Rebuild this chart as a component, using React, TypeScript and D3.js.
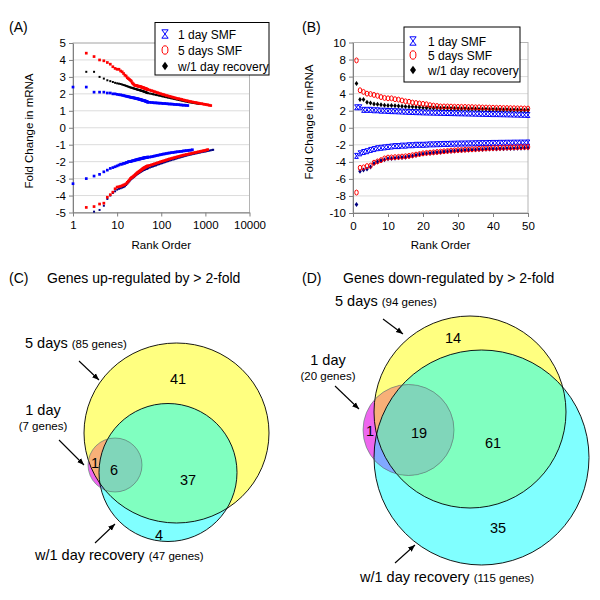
import React, { useEffect, useRef } from "react"
import * as d3 from "d3"

// rank order 1..50 (panel B, also the start of panel A)
const ranksB = d3.range(1, 51)
// ranks of the long tail shown in panel A
const tailRanks = [55, 60, 65, 70, 76, 82, 89, 96, 104, 112, 121, 131, 142, 154, 167, 181, 196, 212, 230, 249, 270, 292,
  316, 342, 370, 400, 433, 469, 508, 550, 596, 645, 699, 757, 820, 888, 962, 1042, 1128, 1222, 1323, 1433, 1500]

const blueUp = [2.4, 2.4, 2.1, 2.1, 2.1, 2.05, 2.05, 2.0, 2.0, 1.97, 1.95, 1.94, 1.92, 1.9, 1.88, 1.86, 1.85, 1.83, 1.82, 1.8,
  1.79, 1.78, 1.77, 1.76, 1.75, 1.74, 1.73, 1.72, 1.71, 1.7, 1.69, 1.68, 1.67, 1.66, 1.65, 1.64, 1.63, 1.62, 1.61, 1.6,
  1.6, 1.59, 1.58, 1.57, 1.56, 1.55, 1.54, 1.53, 1.52, 1.5]
const redUp = [7.9, 4.4, 4.2, 4.0, 3.95, 3.85, 3.75, 3.6, 3.5, 3.45, 3.45, 3.35, 3.3, 3.2, 3.1, 3.05, 2.95, 2.9, 2.85, 2.8,
  2.75, 2.65, 2.6, 2.55, 2.5, 2.5, 2.5, 2.48, 2.46, 2.45, 2.45, 2.44, 2.43, 2.42, 2.4, 2.4, 2.38, 2.37, 2.36, 2.35,
  2.34, 2.33, 2.32, 2.31, 2.3, 2.29, 2.28, 2.27, 2.26, 2.25]
const blackUp = [5.2, 3.3, 3.3, 3.0, 2.9, 2.8, 2.75, 2.7, 2.65, 2.62, 2.6, 2.58, 2.55, 2.52, 2.5, 2.47, 2.45, 2.42, 2.4, 2.38,
  2.36, 2.35, 2.33, 2.32, 2.3, 2.29, 2.28, 2.26, 2.25, 2.24, 2.23, 2.22, 2.21, 2.2, 2.19, 2.18, 2.17, 2.16, 2.15, 2.14,
  2.13, 2.12, 2.11, 2.1, 2.09, 2.08, 2.07, 2.06, 2.05, 2.04]
const blueDown = [-3.3, -3.0, -2.85, -2.75, -2.6, -2.5, -2.4, -2.35, -2.3, -2.25, -2.2, -2.15, -2.15, -2.1, -2.1, -2.05, -2.05, -2.0, -2.0, -2.0,
  -1.98, -1.95, -1.95, -1.93, -1.92, -1.9, -1.9, -1.88, -1.87, -1.86, -1.85, -1.85, -1.84, -1.83, -1.82, -1.81, -1.8, -1.8, -1.79, -1.78,
  -1.78, -1.77, -1.77, -1.76, -1.76, -1.75, -1.75, -1.74, -1.74, -1.73]
const redDown = [-7.6, -4.7, -4.65, -4.5, -4.45, -4.1, -3.95, -3.8, -3.6, -3.5, -3.48, -3.45, -3.42, -3.38, -3.35, -3.3, -3.22, -3.15, -3.08, -3.0,
  -2.95, -2.92, -2.88, -2.84, -2.8, -2.76, -2.72, -2.68, -2.65, -2.62, -2.6, -2.57, -2.55, -2.52, -2.5, -2.47, -2.45, -2.42, -2.4, -2.38,
  -2.37, -2.35, -2.34, -2.32, -2.31, -2.3, -2.28, -2.27, -2.26, -2.25]
const navyDown = [-9.0, -5.1, -4.95, -4.85, -4.6, -4.2, -4.0, -3.85, -3.75, -3.65, -3.6, -3.57, -3.53, -3.5, -3.45, -3.38, -3.3, -3.22, -3.15, -3.08,
  -3.02, -2.98, -2.94, -2.9, -2.86, -2.82, -2.78, -2.75, -2.72, -2.7, -2.67, -2.65, -2.62, -2.6, -2.58, -2.56, -2.54, -2.52, -2.5, -2.49,
  -2.48, -2.46, -2.45, -2.44, -2.43, -2.42, -2.41, -2.4, -2.39, -2.38]

const blueUpTail = [1.5, 1.49, 1.48, 1.47, 1.47, 1.46, 1.45, 1.45, 1.44, 1.43, 1.43, 1.42, 1.41, 1.4, 1.4, 1.39, 1.38, 1.37, 1.37, 1.36,
  1.35, 1.34, 1.33, 1.33, 1.32, 1.31]
const redUpTail = [2.22, 2.19, 2.16, 2.13, 2.1, 2.07, 2.04, 2.01, 1.98, 1.96, 1.93, 1.9, 1.88, 1.85, 1.83, 1.8, 1.78, 1.75, 1.73, 1.71,
  1.69, 1.67, 1.64, 1.62, 1.6, 1.58, 1.56, 1.54, 1.52, 1.5, 1.49, 1.47, 1.45, 1.43, 1.42, 1.4, 1.38, 1.37, 1.35, 1.33, 1.31]
const blackUpTail = [2.02, 2.0, 1.98, 1.96, 1.94, 1.92, 1.9, 1.88, 1.86, 1.84, 1.82, 1.8, 1.78, 1.76, 1.74, 1.72, 1.7, 1.68, 1.66, 1.64,
  1.62, 1.6, 1.58, 1.56, 1.54, 1.52, 1.5, 1.49, 1.47, 1.46, 1.44, 1.43, 1.41, 1.4]
const blueDownTail = [-1.73, -1.71, -1.69, -1.67, -1.65, -1.63, -1.61, -1.59, -1.57, -1.55, -1.54, -1.52, -1.5, -1.49, -1.47, -1.46, -1.45,
  -1.43, -1.42, -1.41, -1.4, -1.39, -1.37, -1.36, -1.35, -1.34, -1.33, -1.32, -1.3]
const redDownTail = [-2.22, -2.19, -2.16, -2.13, -2.1, -2.07, -2.04, -2.01, -1.98, -1.96, -1.93, -1.9, -1.87, -1.84, -1.82, -1.79, -1.77,
  -1.74, -1.72, -1.69, -1.67, -1.64, -1.62, -1.6, -1.58, -1.56, -1.54, -1.52, -1.5, -1.48, -1.46, -1.44, -1.42, -1.4, -1.38, -1.36,
  -1.34, -1.32, -1.29]
const navyDownTail = [-2.35, -2.31, -2.28, -2.25, -2.22, -2.18, -2.15, -2.12, -2.09, -2.06, -2.03, -2.0, -1.97, -1.94, -1.91, -1.88, -1.86,
  -1.83, -1.8, -1.77, -1.75, -1.72, -1.7, -1.67, -1.65, -1.62, -1.6, -1.58, -1.56, -1.54, -1.52, -1.5, -1.48, -1.46, -1.44, -1.42,
  -1.41, -1.39, -1.37, -1.35, -1.33, -1.31, -1.3]

const legendLabels = ["1 day SMF", "5 days SMF", "w/1 day recovery"]
const ticksAx = [1, 10, 100, 1000, 10000]
const ticksAy = [-5, -4, -3, -2, -1, 0, 1, 2, 3, 4, 5]
const ticksBx = [0, 10, 20, 30, 40, 50]
const ticksBy = [-10, -8, -6, -4, -2, 0, 2, 4, 6, 8, 10]

const vennGroups = ["5 days", "1 day", "w/1 day recovery"]
const upTotals = [85, 7, 47]
const downTotals = [94, 20, 115]
// regions: 5 days only, 1 day only, all three, 5 days + recovery, recovery only
const upCounts = [41, 1, 6, 37, 4]
const downCounts = [14, 1, 19, 61, 35]

const FONT = "Liberation Sans, Arial, sans-serif"

const series = [
  { shape: "hourglass", up: blueUp, down: blueDown, upTail: blueUpTail, downTail: blueDownTail, upColor: "#0000ff", downColor: "#0000ff" },
  { shape: "diamond", up: blackUp, down: navyDown, upTail: blackUpTail, downTail: navyDownTail, upColor: "#000000", downColor: "#000080" },
  { shape: "ellipse", up: redUp, down: redDown, upTail: redUpTail, downTail: redDownTail, upColor: "#ff0000", downColor: "#ff0000" },
]
const legendShapes = [["hourglass", "#0000ff"], ["ellipse", "#ff0000"], ["diamond", "#000000"]]

function marker(g, shape, color, x, y, s) {
  if (shape === "ellipse") {
    g.append("ellipse").attr("cx", x).attr("cy", y).attr("rx", s * 0.7).attr("ry", s)
      .attr("fill", "none").attr("stroke", color).attr("stroke-width", 1)
  } else if (shape === "hourglass") {
    g.append("path")
      .attr("d", `M${x - 0.75 * s},${y - s}H${x + 0.75 * s}L${x - 0.75 * s},${y + s}H${x + 0.75 * s}Z`)
      .attr("fill", "none").attr("stroke", color).attr("stroke-width", 1)
  } else {
    g.append("path")
      .attr("d", `M${x},${y - s}L${x + 0.72 * s},${y}L${x},${y + s}L${x - 0.72 * s},${y}Z`)
      .attr("fill", color)
  }
}

function frame(g, x, y, xTicks, yTicks, titleY) {
  const [x0, x1] = x.range()
  const [y0, y1] = y.range()
  g.append("g").selectAll("line").data(yTicks).join("line")
    .attr("x1", x0).attr("x2", x1).attr("y1", d => y(d)).attr("y2", d => y(d))
    .attr("stroke", "#dcdcdc")
  g.append("rect").attr("x", x0).attr("y", y1).attr("width", x1 - x0).attr("height", y0 - y1)
    .attr("fill", "none").attr("stroke", "#b4b4b4")

  const ax = g.append("g").attr("transform", `translate(${x0},0)`)
    .call(d3.axisLeft(y).tickValues(yTicks).tickSize(4).tickSizeOuter(0).tickFormat(d => String(d)))
  const bx = g.append("g").attr("transform", `translate(0,${y0})`)
    .call(d3.axisBottom(x).tickValues(xTicks).tickSize(4).tickSizeOuter(0).tickFormat(d => String(d)))
  for (const a of [ax, bx]) {
    a.select(".domain").attr("stroke", "#808080")
    a.selectAll(".tick line").attr("stroke", "#808080")
    a.selectAll(".tick text").attr("font-family", FONT).attr("font-size", 11.5).attr("fill", "#000")
  }
  bx.selectAll(".tick text").attr("dy", "0.85em")

  g.append("text").attr("x", (x0 + x1) / 2).attr("y", 249).attr("text-anchor", "middle")
    .attr("font-family", FONT).attr("font-size", 11.5).text("Rank Order")
  g.append("text").attr("transform", `translate(${x0 - 40},${titleY}) rotate(-90)`).attr("text-anchor", "middle")
    .attr("font-family", FONT).attr("font-size", 11.5).text("Fold Change in mRNA")
}

function legend(g, bx, by, bw, bh, gx, rows, tx) {
  g.append("rect").attr("x", bx).attr("y", by).attr("width", bw).attr("height", bh)
    .attr("fill", "#fff").attr("stroke", "#000").attr("stroke-width", 1)
  legendLabels.forEach((lab, i) => {
    marker(g, legendShapes[i][0], legendShapes[i][1], gx, rows[i], 4.2)
    g.append("text").attr("x", tx).attr("y", rows[i] + 4.5).attr("font-family", FONT)
      .attr("font-size", 12).text(lab)
  })
}

function drawVenn(g, key, geo, counts, totals, labels) {
  const defs = g.append("defs")
  const ell = (parent, c) => parent.append("ellipse").attr("cx", c.cx).attr("cy", c.cy).attr("rx", c.rx).attr("ry", c.ry)
  ell(defs.append("clipPath").attr("id", `${key}-y`), geo.yellow)
  ell(defs.append("clipPath").attr("id", `${key}-c`), geo.cyan)
  const cy = `url(#${key}-y)`, cc = `url(#${key}-c)`

  ell(g, geo.yellow).attr("fill", "#ffff80")
  ell(g, geo.cyan).attr("fill", "#80ffff")
  ell(g, geo.cyan).attr("fill", "#80ffc0").attr("clip-path", cy)
  ell(g, geo.small).attr("fill", "#ee66ee")
  ell(g, geo.small).attr("fill", "#f8b078").attr("clip-path", cy)
  ell(g, geo.small).attr("fill", "#80a8ff").attr("clip-path", cc)
  ell(g.append("g").attr("clip-path", cy), geo.small).attr("fill", "#80d6ba").attr("clip-path", cc)
  ell(g, geo.yellow).attr("fill", "none").attr("stroke", "#000").attr("stroke-width", 0.9)
  ell(g, geo.cyan).attr("fill", "none").attr("stroke", "#000").attr("stroke-width", 0.9)
  ell(g, geo.small).attr("fill", "none").attr("stroke", "#3d7d55").attr("stroke-opacity", 0.55).attr("stroke-width", 1)

  counts.forEach((c, i) => {
    g.append("text").attr("x", geo.nums[i][0]).attr("y", geo.nums[i][1] + 5).attr("text-anchor", "middle")
      .attr("font-family", FONT).attr("font-size", 14.5).text(c)
  })

  const five = g.append("text").attr("x", labels.five[0]).attr("y", labels.five[1]).attr("font-family", FONT)
  five.append("tspan").attr("font-size", 14.5).text(`${vennGroups[0]} `)
  five.append("tspan").attr("font-size", 11.5).text(`(${totals[0]} genes)`)
  g.append("text").attr("x", labels.one[0]).attr("y", labels.one[1]).attr("text-anchor", "middle")
    .attr("font-family", FONT).attr("font-size", 14.5).text(vennGroups[1])
  g.append("text").attr("x", labels.one[0]).attr("y", labels.one[1] + 15).attr("text-anchor", "middle")
    .attr("font-family", FONT).attr("font-size", 11.5).text(`(${totals[1]} genes)`)
  const rec = g.append("text").attr("x", labels.rec[0]).attr("y", labels.rec[1]).attr("font-family", FONT)
  rec.append("tspan").attr("font-size", 14.5).text(`${vennGroups[2]} `)
  rec.append("tspan").attr("font-size", 11.5).text(`(${totals[2]} genes)`)

  geo.arrows.forEach(a => {
    g.append("line").attr("x1", a[0]).attr("y1", a[1]).attr("x2", a[2]).attr("y2", a[3])
      .attr("stroke", "#000").attr("stroke-width", 1.1).attr("marker-end", "url(#arrowhead)")
  })
}

export default function App() {
  const ref = useRef(null)

  useEffect(() => {
    const svg = d3.select(ref.current)
    svg.selectAll("*").remove()
    svg.append("rect").attr("width", 600).attr("height", 600).attr("fill", "#fff")

    svg.append("defs").append("marker").attr("id", "arrowhead").attr("viewBox", "0 0 10 10")
      .attr("refX", 10).attr("refY", 5).attr("markerWidth", 7).attr("markerHeight", 7)
      .attr("markerUnits", "userSpaceOnUse").attr("orient", "auto")
      .append("path").attr("d", "M0,1L10,5L0,9Z").attr("fill", "#000")

    // ---- panel A
    const gA = svg.append("g")
    const xA = d3.scaleLog().domain([1, 10000]).range([73, 249.5])
    const yA = d3.scaleLinear().domain([-5, 5]).range([212.5, 43])
    frame(gA, xA, yA, ticksAx, ticksAy, 131)
    series.forEach(s => {
      const sz = s.shape === "diamond" ? 2 : 2.7
      const pts = (vals, tail, color) => {
        const p = ranksB.map((r, i) => [r, vals[i]]).concat(tail.map((v, i) => [tailRanks[i], v]))
        gA.append("g").selectAll("rect").data(p.filter(d => d[1] >= -5.05 && d[1] <= 5.05)).join("rect")
          .attr("x", d => xA(d[0]) - sz / 2).attr("y", d => yA(d[1]) - sz / 2)
          .attr("width", sz).attr("height", sz)
          .attr("fill", color)
      }
      pts(s.up, s.upTail, s.upColor)
      pts(s.down, s.downTail, s.downColor)
    })
    legend(gA, 155, 22.5, 114, 52.5, 165, [34, 50, 66], 178)

    // ---- panel B
    const gB = svg.append("g")
    const xB = d3.scaleLinear().domain([0, 50]).range([353, 528])
    const yB = d3.scaleLinear().domain([-10, 10]).range([213, 42.5])
    frame(gB, xB, yB, ticksBx, ticksBy, 122)
    series.forEach(s => {
      const mg = gB.append("g")
      ranksB.forEach((r, i) => {
        marker(mg, s.shape, s.upColor, xB(r), yB(s.up[i]), 2.5)
        marker(mg, s.shape, s.downColor, xB(r), yB(s.down[i]), 2.5)
      })
    })
    legend(gB, 404, 27, 116, 55, 413, [41, 55, 70], 428)

    // ---- panel labels and titles
    const lab = (x, y, t, size) => svg.append("text").attr("x", x).attr("y", y)
      .attr("font-family", FONT).attr("font-size", size).text(t)
    lab(9, 32, "(A)", 14)
    lab(302, 32, "(B)", 14)
    lab(9, 283, "(C)", 14)
    lab(302, 283, "(D)", 14)
    lab(47, 283, "Genes up-regulated by > 2-fold", 14)
    lab(343, 283, "Genes down-regulated by > 2-fold", 14)

    // ---- panel C
    drawVenn(svg.append("g"), "vc", {
      yellow: { cx: 176.5, cy: 433, rx: 92.5, ry: 90 },
      cyan: { cx: 168, cy: 472.5, rx: 69, ry: 69 },
      small: { cx: 115, cy: 465, rx: 27, ry: 27 },
      nums: [[178, 379], [95, 463], [114, 470], [188, 480], [159, 535]],
      arrows: [[79, 361, 99, 380], [59, 440, 84, 465], [95, 543, 115, 524]],
    }, upCounts, upTotals, { five: [25, 348], one: [43, 415], rec: [35, 560] })

    // ---- panel D
    drawVenn(svg.append("g"), "vd", {
      yellow: { cx: 470, cy: 412, rx: 96, ry: 96 },
      cyan: { cx: 481.5, cy: 457.5, rx: 107.5, ry: 107.5 },
      small: { cx: 408.5, cy: 430, rx: 45.5, ry: 45.5 },
      nums: [[453, 338], [370, 431], [419, 433], [493, 443], [498, 528]],
      arrows: [[383, 319, 403, 334], [335, 386, 359, 409], [395, 563, 415, 545]],
    }, downCounts, downTotals, { five: [335, 306], one: [328, 365], rec: [360, 582] })
  }, [])

  return (
    <div style={{ position: "absolute", left: 0, top: 0 }}>
      <svg ref={ref} width={600} height={600} style={{ display: "block" }} />
    </div>
  )
}
